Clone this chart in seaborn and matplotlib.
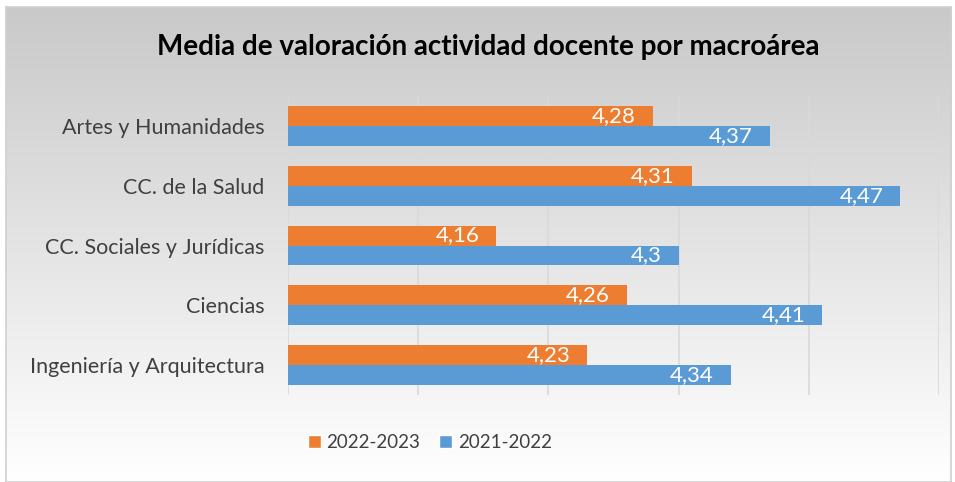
import matplotlib

matplotlib.use("Agg")
import matplotlib.pyplot as plt
import numpy as np
import pandas as pd
import seaborn as sns
from matplotlib.patches import Patch

categories = [
    "Artes y Humanidades",
    "CC. de la Salud",
    "CC. Sociales y Jurídicas",
    "Ciencias",
    "Ingeniería y Arquitectura",
]
series_names = ["2022-2023", "2021-2022"]
values_2022_2023 = [4.28, 4.31, 4.16, 4.26, 4.23]
values_2021_2022 = [4.37, 4.47, 4.30, 4.41, 4.34]
x_ticks = [4.0, 4.1, 4.2, 4.3, 4.4, 4.5]

colors = {"2022-2023": "#ED7D31", "2021-2022": "#5B9BD5"}

df = pd.DataFrame(
    {
        "Macroárea": categories * 2,
        "Curso": [series_names[0]] * len(categories) + [series_names[1]] * len(categories),
        "Media": values_2022_2023 + values_2021_2022,
    }
)

sns.set_theme(style="white")
plt.rcParams["font.family"] = ["Lato", "DejaVu Sans"]

fig = plt.figure(figsize=(9.55, 4.82), dpi=100)

# Background gradient (white at top to light gray at bottom)
bg = fig.add_axes([0.006, 0.0, 0.99, 0.985], zorder=-10)
grad = np.linspace(1.0, 0.0, 256).reshape(-1, 1)
bg.imshow(grad, aspect="auto", cmap=matplotlib.colors.LinearSegmentedColormap.from_list(
    "bg", ["#c9c9c9", "#ffffff"]), extent=[0, 1, 0, 1], origin="lower")
bg.set_xticks([])
bg.set_yticks([])
for s in bg.spines.values():
    s.set_color("#d0d0d0")
    s.set_linewidth(1.2)

ax = fig.add_axes([0.3016, 0.1805, 0.6816, 0.6203])
ax.patch.set_alpha(0)
sns.barplot(
    data=df,
    x="Media",
    y="Macroárea",
    hue="Curso",
    hue_order=series_names,
    order=categories,
    palette=colors,
    saturation=1,
    orient="h",
    width=0.667,
    gap=0,
    linewidth=0,
    legend=False,
    ax=ax,
    zorder=3,
)
ax.set_xlim(4.0, 4.5)
ax.set_xticks(x_ticks)
ax.set_xticklabels([])
ax.grid(axis="x", color="#d9d9d9", linewidth=1.2, zorder=0)
ax.set_axisbelow(True)
for s in ax.spines.values():
    s.set_visible(False)
ax.tick_params(axis="both", length=0)
ax.tick_params(axis="y", labelsize=15.5, colors="#404040", pad=17)
ax.set_xlabel("")
ax.set_ylabel("")

# value labels, decimal comma, inside the bar end
for container in ax.containers:
    for bar in container:
        v = bar.get_width()
        lbl = f"{v:g}".replace(".", ",")
        ax.annotate(
            lbl,
            xy=(v, bar.get_y() + bar.get_height() / 2),
            xytext=(-12, 0),
            textcoords="offset points",
            ha="right",
            va="center",
            color="white",
            fontsize=16,
            zorder=5,
        )

fig.text(
    0.511,
    0.902,
    "Media de valoración actividad docente por macroárea",
    ha="center",
    va="center",
    fontsize=20,
    fontweight="bold",
    color="black",
)

handles = [Patch(facecolor=colors[n], label=n) for n in series_names]
fig.legend(
    handles=handles,
    loc="center",
    bbox_to_anchor=(0.45, 0.081),
    ncol=2,
    frameon=False,
    fontsize=13.5,
    handlelength=0.7,
    handleheight=0.7,
    handletextpad=0.3,
    columnspacing=1.0,
    labelcolor="#404040",
)

fig.savefig("out.png", dpi=100)
